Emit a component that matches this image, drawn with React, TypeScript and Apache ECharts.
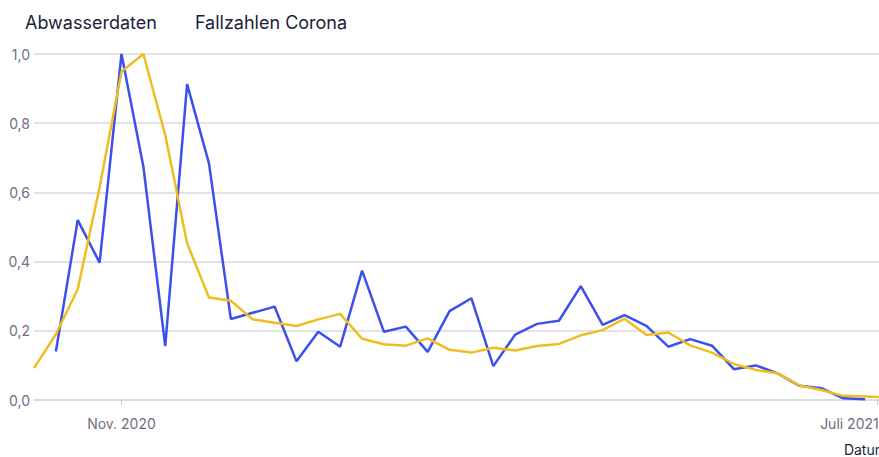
import React, { useEffect, useRef } from "react";
import * as echarts from "echarts";

const weekDates = [
  "2020-10-04", "2020-10-11", "2020-10-18", "2020-10-25",
  "2020-11-01", "2020-11-08", "2020-11-15", "2020-11-22", "2020-11-29",
  "2020-12-06", "2020-12-13", "2020-12-20", "2020-12-27",
  "2021-01-03", "2021-01-10", "2021-01-17", "2021-01-24", "2021-01-31",
  "2021-02-07", "2021-02-14", "2021-02-21", "2021-02-28",
  "2021-03-07", "2021-03-14", "2021-03-21", "2021-03-28",
  "2021-04-04", "2021-04-11", "2021-04-18", "2021-04-25",
  "2021-05-02", "2021-05-09", "2021-05-16", "2021-05-23", "2021-05-30",
  "2021-06-06", "2021-06-13", "2021-06-20", "2021-06-27",
  "2021-07-04",
];

const abwasserdaten: (number | null)[] = [
  null, 0.14, 0.52, 0.397, 1.0, 0.675, 0.156, 0.913, 0.684, 0.234, 0.252,
  0.27, 0.112, 0.197, 0.154, 0.374, 0.197, 0.212, 0.139, 0.257, 0.294,
  0.098, 0.189, 0.22, 0.229, 0.329, 0.217, 0.245, 0.214, 0.154, 0.176,
  0.157, 0.089, 0.1, 0.077, 0.041, 0.034, 0.005, 0.002, null,
];

const fallzahlen: number[] = [
  0.092, 0.19, 0.32, 0.615, 0.949, 1.0, 0.766, 0.453, 0.296, 0.287,
  0.233, 0.223, 0.214, 0.233, 0.249, 0.177, 0.161, 0.157, 0.178, 0.145,
  0.137, 0.151, 0.143, 0.156, 0.162, 0.187, 0.202, 0.235, 0.188, 0.195,
  0.158, 0.137, 0.104, 0.087, 0.077, 0.042, 0.029, 0.012, 0.01, 0.008,
];

const seriesNames = ["Abwasserdaten", "Fallzahlen Corona"];
const xTickDates = ["2020-11-01", "2021-07-01"];
const xTickLabels = ["Nov. 2020", "Juli 2021"];
const xAxisName = "Datum";

const toTs = (s: string) => {
  const [y, m, d] = s.split("-").map(Number);
  return Date.UTC(y, m - 1, d);
};

export default function App() {
  const ref = useRef<HTMLDivElement>(null);

  useEffect(() => {
    if (!ref.current) return;
    const chart = echarts.init(ref.current, undefined, { renderer: "svg" });
    const tickTs = xTickDates.map(toTs);
    const font = "Inter, 'Noto Sans', sans-serif";
    chart.setOption({
      animation: false,
      textStyle: { fontFamily: font },
      legend: {
        data: seriesNames,
        left: 15,
        top: 8,
        icon: "none",
        itemWidth: 0,
        itemHeight: 0,
        itemGap: 33,
        textStyle: { fontSize: 18, color: "#1c1c3c", fontFamily: font },
      },
      grid: { left: 34, right: 13, top: 54, bottom: 57 },
      xAxis: {
        type: "value",
        min: toTs(weekDates[0]),
        max: toTs(weekDates[weekDates.length - 1]),
        name: xAxisName,
        nameLocation: "end",
        nameGap: 0,
        nameTextStyle: {
          align: "right",
          verticalAlign: "top",
          padding: [42, 0, 0, 0],
          fontSize: 14,
          color: "#1c1c3c",
          fontFamily: font,
        },
        axisLine: { show: true, lineStyle: { color: "#d9d9e3", width: 1.5 } },
        axisTick: {
          show: true,
          customValues: tickTs,
          length: 5,
          lineStyle: { color: "#c9c9d5", width: 1 },
        },
        axisLabel: {
          customValues: tickTs,
          margin: 16,
          fontSize: 14,
          color: "#6e6e80",
          fontFamily: font,
          formatter: (v: number) => {
            const i = tickTs.indexOf(v);
            if (i < 0) return "";
            return i === tickTs.length - 1 ? `{r|${xTickLabels[i]}}` : xTickLabels[i];
          },
          rich: {
            r: {
              width: 115,
              align: "left",
              fontSize: 14,
              color: "#6e6e80",
              fontFamily: font,
            },
          },
        },
        splitLine: { show: false },
      },
      yAxis: {
        type: "value",
        min: 0,
        max: 1,
        interval: 0.2,
        axisLine: { show: false },
        axisTick: { show: false },
        axisLabel: {
          margin: 4,
          fontSize: 14,
          color: "#6e6e80",
          fontFamily: font,
          formatter: (v: number) => v.toFixed(1).replace(".", ","),
        },
        splitLine: { lineStyle: { color: "#d9d9e3", width: 1.5 } },
      },
      series: [
        {
          name: seriesNames[0],
          type: "line",
          showSymbol: false,
          connectNulls: false,
          data: weekDates.map((d, i) => [toTs(d), abwasserdaten[i]]),
          lineStyle: { color: "#3b50ec", width: 2.5 },
          itemStyle: { color: "#3b50ec" },
        },
        {
          name: seriesNames[1],
          type: "line",
          showSymbol: false,
          data: weekDates.map((d, i) => [toTs(d), fallzahlen[i]]),
          lineStyle: { color: "#f0bd1f", width: 2.5 },
          itemStyle: { color: "#f0bd1f" },
        },
      ],
    });
    return () => chart.dispose();
  }, []);

  return (
    <div
      style={{
        position: "fixed",
        left: 0,
        top: 0,
        width: 879,
        height: 457,
        overflow: "hidden",
        background: "#fff",
      }}
    >
      <div ref={ref} style={{ width: 900, height: 457 }} />
    </div>
  );
}
